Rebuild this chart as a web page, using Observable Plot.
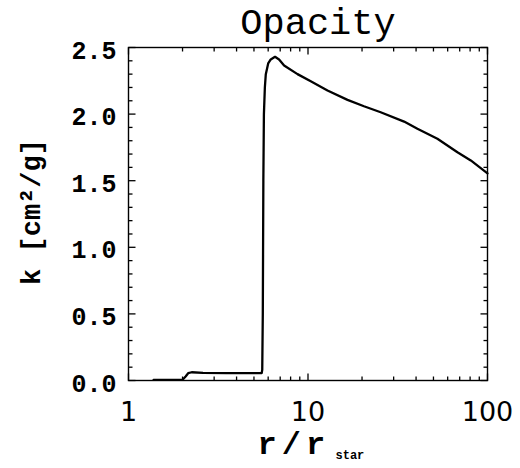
<!DOCTYPE html>
<html>
<head>
<meta charset="utf-8">
<script src="https://cdn.jsdelivr.net/npm/d3@7"></script>
<script src="https://cdn.jsdelivr.net/npm/@observablehq/plot@0.6"></script>
<style>
  html, body { margin: 0; padding: 0; background: #fff; }
</style>
</head>
<body>
<div id="chart"></div>
<script>
// ---- data ----
const radius = [1.38, 2.0, 2.08, 2.15, 2.25, 2.6, 3.5, 4.5, 5.52, 5.56, 5.6, 5.64, 5.68, 5.75, 5.82, 6.0, 6.2, 6.55, 6.9, 7.36, 8.74, 10.36, 12.84, 16.6, 20.5, 25.4, 34.3, 40.7, 52.6, 68, 80.7, 100];
const opacity = [0.005, 0.005, 0.03, 0.055, 0.062, 0.057, 0.055, 0.055, 0.055, 0.08, 0.5, 1.5, 2.0, 2.2, 2.3, 2.38, 2.41, 2.43, 2.41, 2.365, 2.30, 2.247, 2.177, 2.107, 2.059, 2.014, 1.944, 1.89, 1.815, 1.714, 1.652, 1.555];

const xMajor = [1, 10, 100];
const xMinor = [2, 3, 4, 5, 6, 7, 8, 9, 20, 30, 40, 50, 60, 70, 80, 90];
const xLabels = ["1", "10", "100"];
const yMajor = [0, 0.5, 1.0, 1.5, 2.0, 2.5];
const yMinor = [0.1, 0.2, 0.3, 0.4, 0.6, 0.7, 0.8, 0.9, 1.1, 1.2, 1.3, 1.4, 1.6, 1.7, 1.8, 1.9, 2.1, 2.2, 2.3, 2.4];
const yLabels = ["0.0", "0.5", "1.0", "1.5", "2.0", "2.5"];

const chartTitle = "Opacity";
const yTitle = "k [cm\u00B2/g]";
const xTitle = "r/r";
const xTitleSub = "star";

// ---- layout ----
const W = 520, H = 468;
const mL = 128, mR = 33, mT = 47, mB = 88;
const fw = W - mL - mR, fh = H - mT - mB;
const majLen = 7, minLen = 4;
const yMin = 0, yMax = 2.5, xMin = 1, xMax = 100;
// tick lengths converted to data units
const yPerPx = (yMax - yMin) / fh;
const decPerPx = Math.log10(xMax / xMin) / fw;

const curve = radius.map((r, i) => ({r, k: opacity[i]}));
const tickStyle = {stroke: "#000", strokeWidth: 1.3};

function xTicks(values, len) {
  return [
    Plot.link(values, {x1: d => d, x2: d => d, y1: () => yMin, y2: () => yMin + len * yPerPx, ...tickStyle}),
    Plot.link(values, {x1: d => d, x2: d => d, y1: () => yMax, y2: () => yMax - len * yPerPx, ...tickStyle})
  ];
}
function yTicks(values, len) {
  return [
    Plot.link(values, {y1: d => d, y2: d => d, x1: () => xMin, x2: () => xMin * Math.pow(10, len * decPerPx), ...tickStyle}),
    Plot.link(values, {y1: d => d, y2: d => d, x1: () => xMax, x2: () => xMax / Math.pow(10, len * decPerPx), ...tickStyle})
  ];
}

const chart = Plot.plot({
  width: W,
  height: H,
  marginLeft: mL, marginRight: mR, marginTop: mT, marginBottom: mB,
  x: {type: "log", domain: [xMin, xMax], axis: null},
  y: {domain: [yMin, yMax], axis: null},
  style: {background: "#fff", color: "#000"},
  marks: [
    Plot.frame({stroke: "#000", strokeWidth: 1.4}),
    ...xTicks(xMajor, majLen),
    ...xTicks(xMinor, minLen),
    ...yTicks(yMajor, majLen),
    ...yTicks(yMinor, minLen),
    Plot.line(curve, {x: "r", y: "k", stroke: "#000", strokeWidth: 2.3, strokeLinejoin: "round"}),
    Plot.text(xLabels, {x: (d, i) => xMajor[i], text: d => d, frameAnchor: "bottom", lineAnchor: "bottom", dy: 40,
      fontFamily: "DejaVu Sans", fontSize: 27, fill: "#000"}),
    Plot.text(yLabels, {y: (d, i) => yMajor[i], text: d => d, frameAnchor: "left", textAnchor: "end", dx: -12, dy: 3,
      fontFamily: "Liberation Mono", fontWeight: "bold", fontSize: 25, fill: "#000"}),
    Plot.text([chartTitle], {text: d => d, frameAnchor: "top", lineAnchor: "bottom", dy: -14, dx: 10,
      fontFamily: "Liberation Mono", fontSize: 37, fill: "#000"}),
    Plot.text([yTitle], {text: d => d, frameAnchor: "left", textAnchor: "middle", rotate: -90, dx: -97, dy: -2,
      fontFamily: "Liberation Mono", fontWeight: "bold", fontSize: 27, fill: "#000"}),
    Plot.text([xTitle], {text: d => d, frameAnchor: "bottom-left", textAnchor: "start", lineAnchor: "bottom", dx: 129, dy: 73,
      fontFamily: "Liberation Mono", fontWeight: "bold", fontSize: 32, fill: "#000"}),
    Plot.text([xTitleSub], {text: d => d, frameAnchor: "bottom-left", textAnchor: "start", lineAnchor: "bottom", dx: 207, dy: 78,
      fontFamily: "Liberation Mono", fontWeight: "bold", fontSize: 12, fill: "#000"})
  ]
});
document.getElementById("chart").appendChild(chart);
chart.querySelectorAll("text").forEach(t => { if (t.textContent === xTitle) t.style.letterSpacing = "5px"; });
</script>
</body>
</html>
